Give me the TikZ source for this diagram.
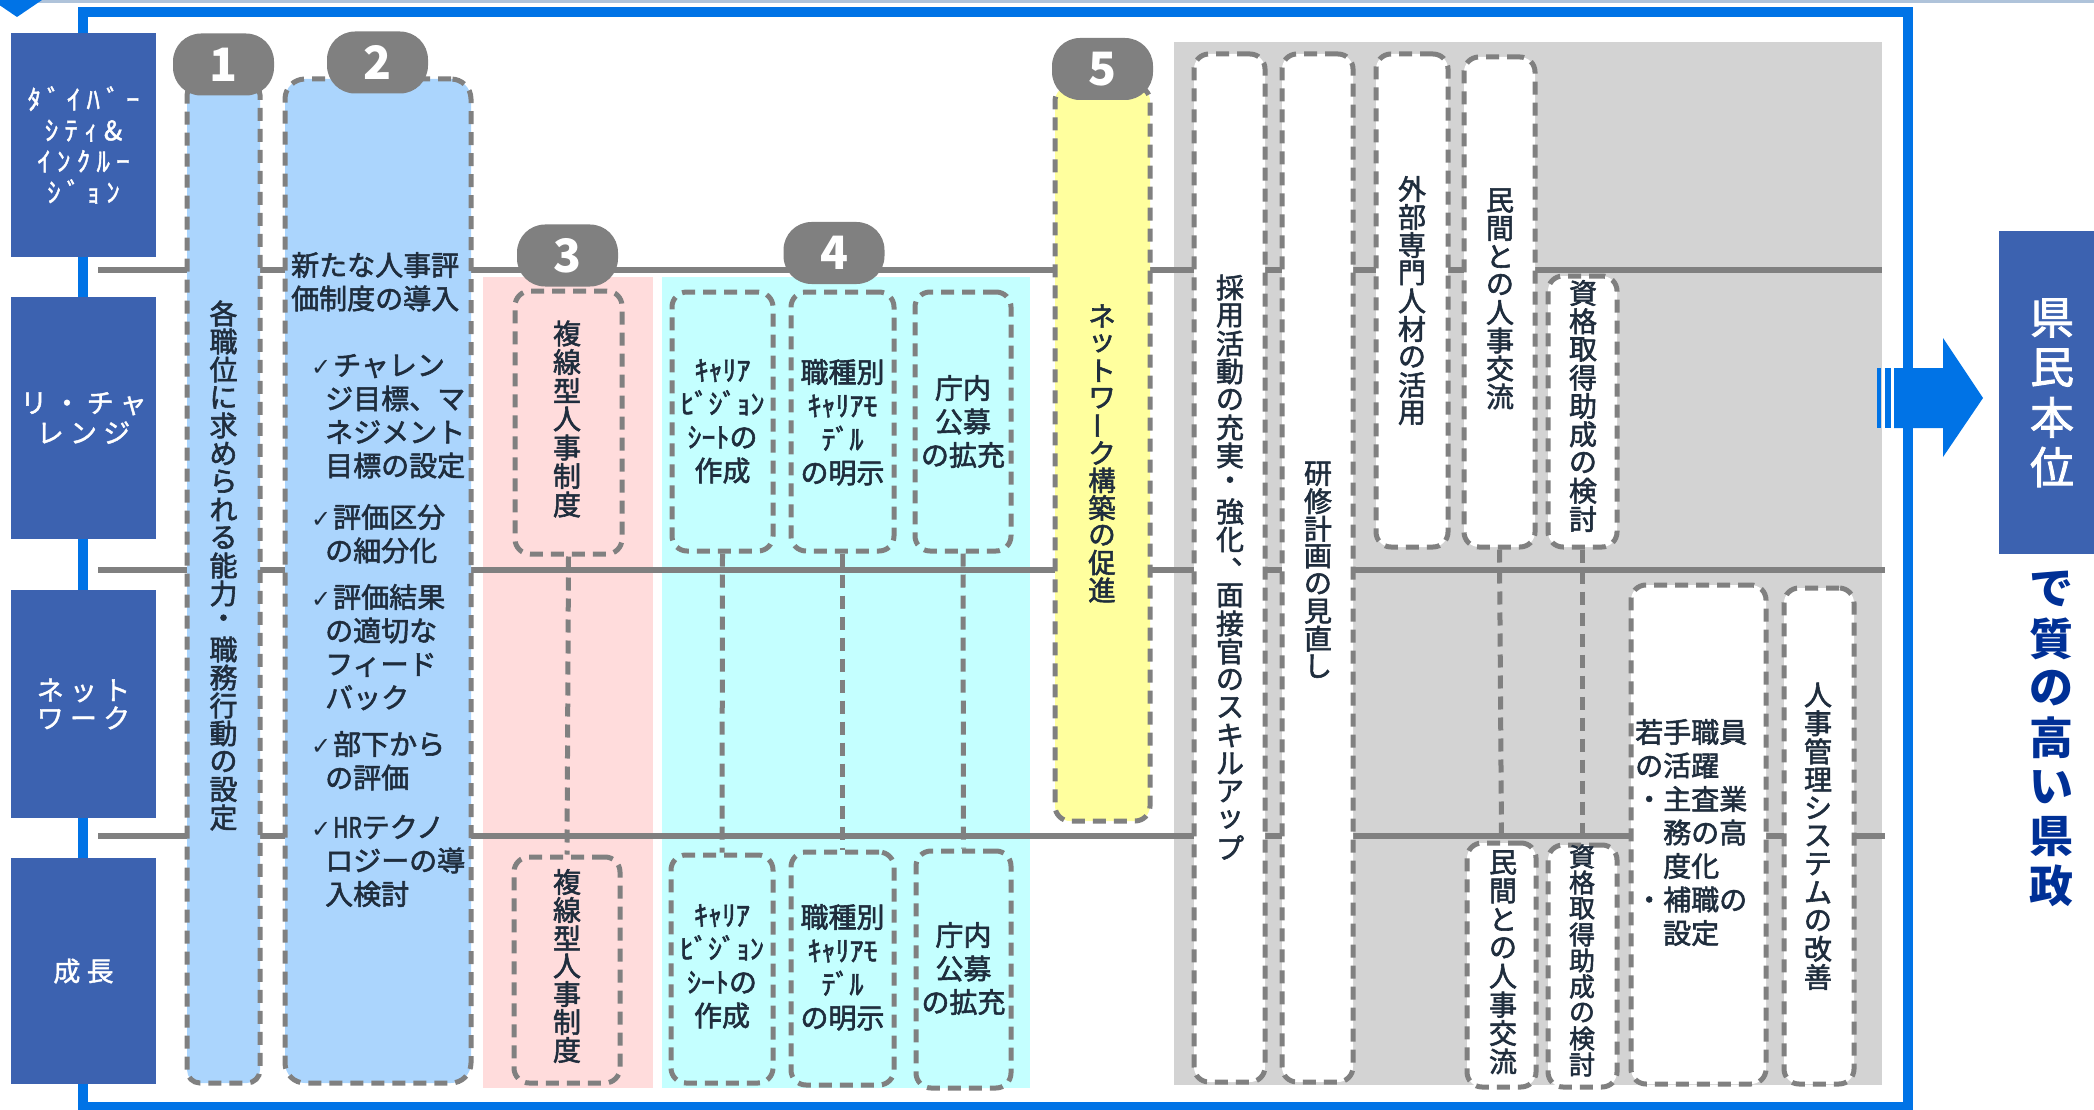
\documentclass[tikz,border=0pt]{standalone}
\usepackage{fontspec}
\usepackage{graphicx}
\setmainfont{Noto Sans CJK JP}
\newfontfamily\jp[FakeBold=2]{Noto Sans CJK JP}
\newfontfamily\jpb{Noto Sans CJK JP}
\newfontfamily\jpls[LetterSpace=23,FakeBold=1.5]{Noto Sans CJK JP}
\newfontfamily\dvs{DejaVu Sans}
\definecolor{frameblue}{RGB}{0,115,230}
\definecolor{labelblue}{RGB}{60,98,176}
\definecolor{lightblue}{RGB}{171,213,253}
\definecolor{pinkbg}{RGB}{255,220,220}
\definecolor{cyanbg}{RGB}{196,255,255}
\definecolor{yellowbg}{RGB}{255,255,158}
\definecolor{graybg}{RGB}{211,211,211}
\definecolor{dashgray}{RGB}{128,128,128}
\definecolor{txtdark}{RGB}{31,45,61}
\definecolor{navytxt}{RGB}{0,48,150}
\definecolor{toplinec}{RGB}{175,195,218}
\makeatletter
\newcommand\vstack[2]{\vbox{\offinterlineskip\def\vs@p{#1}\vs@a#2\relax}}
\def\vs@a#1{\ifx\relax#1\else\vbox to \vs@p{\vss\hbox to 1em{\hss#1\hss}\vss}\expandafter\vs@a\fi}
\makeatother
\newcommand\vbar{\rotatebox[origin=c]{90}{ー}}
\newcommand\vcm{\makebox[0pt][l]{\hspace*{0.05em}\smash{\raisebox{0.12em}{、}}}}
\newcommand\chk{\makebox[22pt][l]{\dvs\fontsize{24}{24}\selectfont ✓}}
\newcommand\indt{\hspace*{14pt}}
\tikzset{
 lbl/.style={fill=labelblue, text=white, inner sep=0pt, minimum width=145, align=center, font=\jpls\fontsize{27}{30}\selectfont},
 dbox/.style={draw=dashgray, line width=5pt, dash pattern=on 13pt off 8pt, rounded corners=15pt, inner sep=0pt},
 badge/.style={fill=dashgray, rounded corners=28pt, minimum width=101, minimum height=62, inner sep=0pt, text=white, font=\jpb\bfseries\fontsize{46}{46}\selectfont},
 hline/.style={draw=dashgray, line width=6pt},
 vcon/.style={draw=dashgray, line width=5pt, dash pattern=on 13pt off 8pt},
 txt/.style={inner sep=0pt, text=txtdark, font=\jp\fontsize{28}{33.5}\selectfont},
 ctxt/.style={txt, anchor=base, text width=92, align=center},
 ltxt/.style={txt, anchor=base west, align=left},
 vt/.style={inner sep=0pt, text=txtdark, font=\jp\fontsize{28}{28}\selectfont},
}
\begin{document}
\begin{tikzpicture}[x=1pt,y=-1pt]
\useasboundingbox (0,0) rectangle (2094,1110);
\clip (0,0) rectangle (2094,1110);
\fill[toplinec] (0,0) rectangle (2094,3);
\fill[frameblue] (-8,0) -- (42,0) -- (17,17) -- cycle;
\draw[frameblue, line width=10pt] (83,12) rectangle (1908,1107);
% panels
\fill[pinkbg] (483,277) rectangle (653,1088);
\fill[cyanbg] (662,277) rectangle (1030,1088);
\fill[graybg] (1174,42) rectangle (1882,1085);
% horizontal lines
\coordinate (h1a) at (98,270); \coordinate (h1b) at (1882,270);
\coordinate (h2a) at (98,570); \coordinate (h2b) at (1885,570);
\coordinate (h3a) at (98,836); \coordinate (h3b) at (1885,836);
\draw[hline] (h1a) -- (h1b);
\draw[hline] (h2a) -- (h2b);
\draw[hline] (h3a) -- (h3b);
% left labels
\node[lbl, minimum height=224, font=\jpls\fontsize{27}{31}\selectfont] (L1) at (83.5,145) {ﾀﾞｲﾊﾞｰ\\ｼﾃｨ\&\\ｲﾝｸﾙｰ\\ｼﾞｮﾝ};
\node[lbl, minimum height=242] (L2) at (83.5,418) {リ・チャ\\レンジ};
\node[lbl, minimum height=228, font=\jpls\fontsize{27}{28}\selectfont] (L3) at (83.5,704) {ネット\\ワーク};
\node[lbl, minimum height=226] (L4) at (83.5,971) {成長};
% boxes
\node[dbox, fill=lightblue, rounded corners=13pt, minimum width=73, minimum height=1001] (B1) at (223.5,582.5) {};
\node[dbox, fill=lightblue, rounded corners=20pt, minimum width=186, minimum height=1004] (B2) at (378,581) {};
\node[dbox, fill=pinkbg, minimum width=107, minimum height=263] (B3u) at (568.5,422.5) {};
\node[dbox, fill=pinkbg, minimum width=106, minimum height=226] (B3l) at (567,970) {};
\node[dbox, fill=cyanbg, minimum width=101, minimum height=259] (B4au) at (722.5,421.5) {};
\node[dbox, fill=cyanbg, minimum width=103, minimum height=259] (B4bu) at (842.5,421.5) {};
\node[dbox, fill=cyanbg, minimum width=96, minimum height=259] (B4cu) at (963,421.5) {};
\node[dbox, fill=cyanbg, minimum width=102, minimum height=228] (B4al) at (722,969) {};
\node[dbox, fill=cyanbg, minimum width=103, minimum height=233] (B4bl) at (842.5,968.5) {};
\node[dbox, fill=cyanbg, minimum width=95, minimum height=237] (B4cl) at (963.5,969.5) {};
\node[dbox, fill=yellowbg, minimum width=95, minimum height=735] (B5) at (1102.5,453.5) {};
\node[dbox, fill=white, minimum width=71, minimum height=1028] (G1) at (1229.5,568) {};
\node[dbox, fill=white, minimum width=71, minimum height=1028] (G2) at (1317.5,568) {};
\node[dbox, fill=white, minimum width=72, minimum height=493] (G3) at (1412,300.5) {};
\node[dbox, fill=white, minimum width=71, minimum height=490] (G4u) at (1499.5,302) {};
\node[dbox, fill=white, minimum width=69, minimum height=271] (G5u) at (1582.5,411.5) {};
\node[dbox, fill=white, minimum width=69, minimum height=244] (G4l) at (1501.5,965) {};
\node[dbox, fill=white, minimum width=69, minimum height=242] (G5l) at (1582.5,966) {};
\node[dbox, fill=white, minimum width=135, minimum height=499] (G6) at (1698.5,834.5) {};
\node[dbox, fill=white, minimum width=70, minimum height=496] (G7) at (1819,836) {};
% connectors
\draw[vcon] (B3u.south) -- (B3l.north);
\draw[vcon] (B4au.south) -- (B4al.north);
\draw[vcon] (B4bu.south) -- (B4bl.north);
\draw[vcon] (B4cu.south) -- (B4cl.north);
\draw[vcon] (G4u.south) -- (G4l.north);
\draw[vcon] (G5u.south) -- (G5l.north);
% badges
\node[badge] (N1) at (223.5,64.5) {1};
\node[badge] (N2) at (377.5,62.5) {2};
\node[badge] (N3) at (567.5,255.5) {3};
\node[badge] (N4) at (834,253) {4};
\node[badge] (N5) at (1102.5,69) {5};
% box 2 texts
\node[ltxt, text width=180] (T2a) at (291,275.6) {新たな人事評\\価制度の導入};
\node[ltxt, text width=160] (T2b) at (311,375.6) {\chk チャレン\\\indt ジ目標、マ\\\indt ネジメント\\\indt 目標の設定};
\node[ltxt, text width=160] (T2c) at (311,527.6) {\chk 評価区分\\\indt の細分化};
\node[ltxt, text width=160] (T2d) at (311,607.6) {\chk 評価結果\\\indt の適切な\\\indt フィード\\\indt バック};
\node[ltxt, text width=160] (T2e) at (311,754.6) {\chk 部下から\\\indt の評価};
\node[ltxt, text width=160] (T2f) at (311,837.6) {\chk \scalebox{0.75}[1]{HR}テクノ\\\indt ロジーの導\\\indt 入検討};
% cyan texts
\node[ctxt] (T4au) at (722.5,380.6) {ｷｬﾘｱ\\ﾋﾞｼﾞｮﾝ\\ｼｰﾄの\\作成};
\node[ctxt] (T4bu) at (842.5,382.6) {職種別\\ｷｬﾘｱﾓ\\ﾃﾞﾙ\\の明示};
\node[ctxt] (T4cu) at (963,398.6) {庁内\\公募\\の拡充};
\node[ctxt] (T4al) at (722,925.6) {ｷｬﾘｱ\\ﾋﾞｼﾞｮﾝ\\ｼｰﾄの\\作成};
\node[ctxt] (T4bl) at (842.5,927.6) {職種別\\ｷｬﾘｱﾓ\\ﾃﾞﾙ\\の明示};
\node[ctxt] (T4cl) at (963.5,945.6) {庁内\\公募\\の拡充};
% G6 text
\node[ltxt, text width=128] (T6) at (1635,742.6) {若手職員\\の活躍\\・主査業\\\hspace*{1em}務の高\\\hspace*{1em}度化\\・補職の\\\hspace*{1em}設定};
% vertical texts
\node[vt] (T1) at (223.5,565.5) {\vstack{28pt}{各職位に求められる能力・職務行動の設定}};
\node[vt] (T3u) at (567,419) {\vstack{28.5pt}{複線型人事制度}};
\node[vt] (T3l) at (567,966) {\vstack{28pt}{複線型人事制度}};
\node[vt, font=\jp\fontsize{27.5}{27.5}\selectfont] (T5) at (1102,453) {\vstack{27.4pt}{ネットワ\vbar ク構築の促進}};
\node[vt] (TG1) at (1230,567.5) {\vstack{28pt}{採用活動の充実・強化\vcm 面接官のスキルアップ}};
\node[vt] (TG2) at (1318,570) {\vstack{27.5pt}{研修計画の見直し}};
\node[vt] (TG3) at (1412,301) {\vstack{28pt}{外部専門人材の活用}};
\node[vt] (TG4u) at (1500,298.5) {\vstack{28pt}{民間との人事交流}};
\node[vt] (TG5u) at (1583,406) {\vstack{28.25pt}{資格取得助成の検討}};
\node[vt] (TG4l) at (1503,962) {\vstack{28.4pt}{民間との人事交流}};
\node[vt, font=\jp\fontsize{26}{26}\selectfont] (TG5l) at (1582,960.5) {\vstack{26pt}{資格取得助成の検討}};
\node[vt] (TG7) at (1818,836) {\vstack{28.2pt}{人事管理システムの改善}};
% arrow
\fill[frameblue] (1877,368) rectangle (1881,428);
\fill[frameblue] (1885,368) rectangle (1891,428);
\fill[frameblue] (1894,368) -- (1943,368) -- (1943,338) -- (1983,398) -- (1943,457) -- (1943,428) -- (1894,428) -- cycle;
% result
\node[fill=labelblue, inner sep=0pt, minimum width=108, minimum height=323] (K0) at (2053,392.5) {};
\node[vt, text=white, font=\jp\fontsize{44}{44}\selectfont] (K1) at (2052,392.5) {\vstack{49.7pt}{県民本位}};
\node[vt, text=navytxt, font=\jpb\bfseries\fontsize{44}{44}\selectfont] (K2) at (2051,737.5) {\vstack{49.5pt}{で質の高い県政}};
\end{tikzpicture}
\end{document}
